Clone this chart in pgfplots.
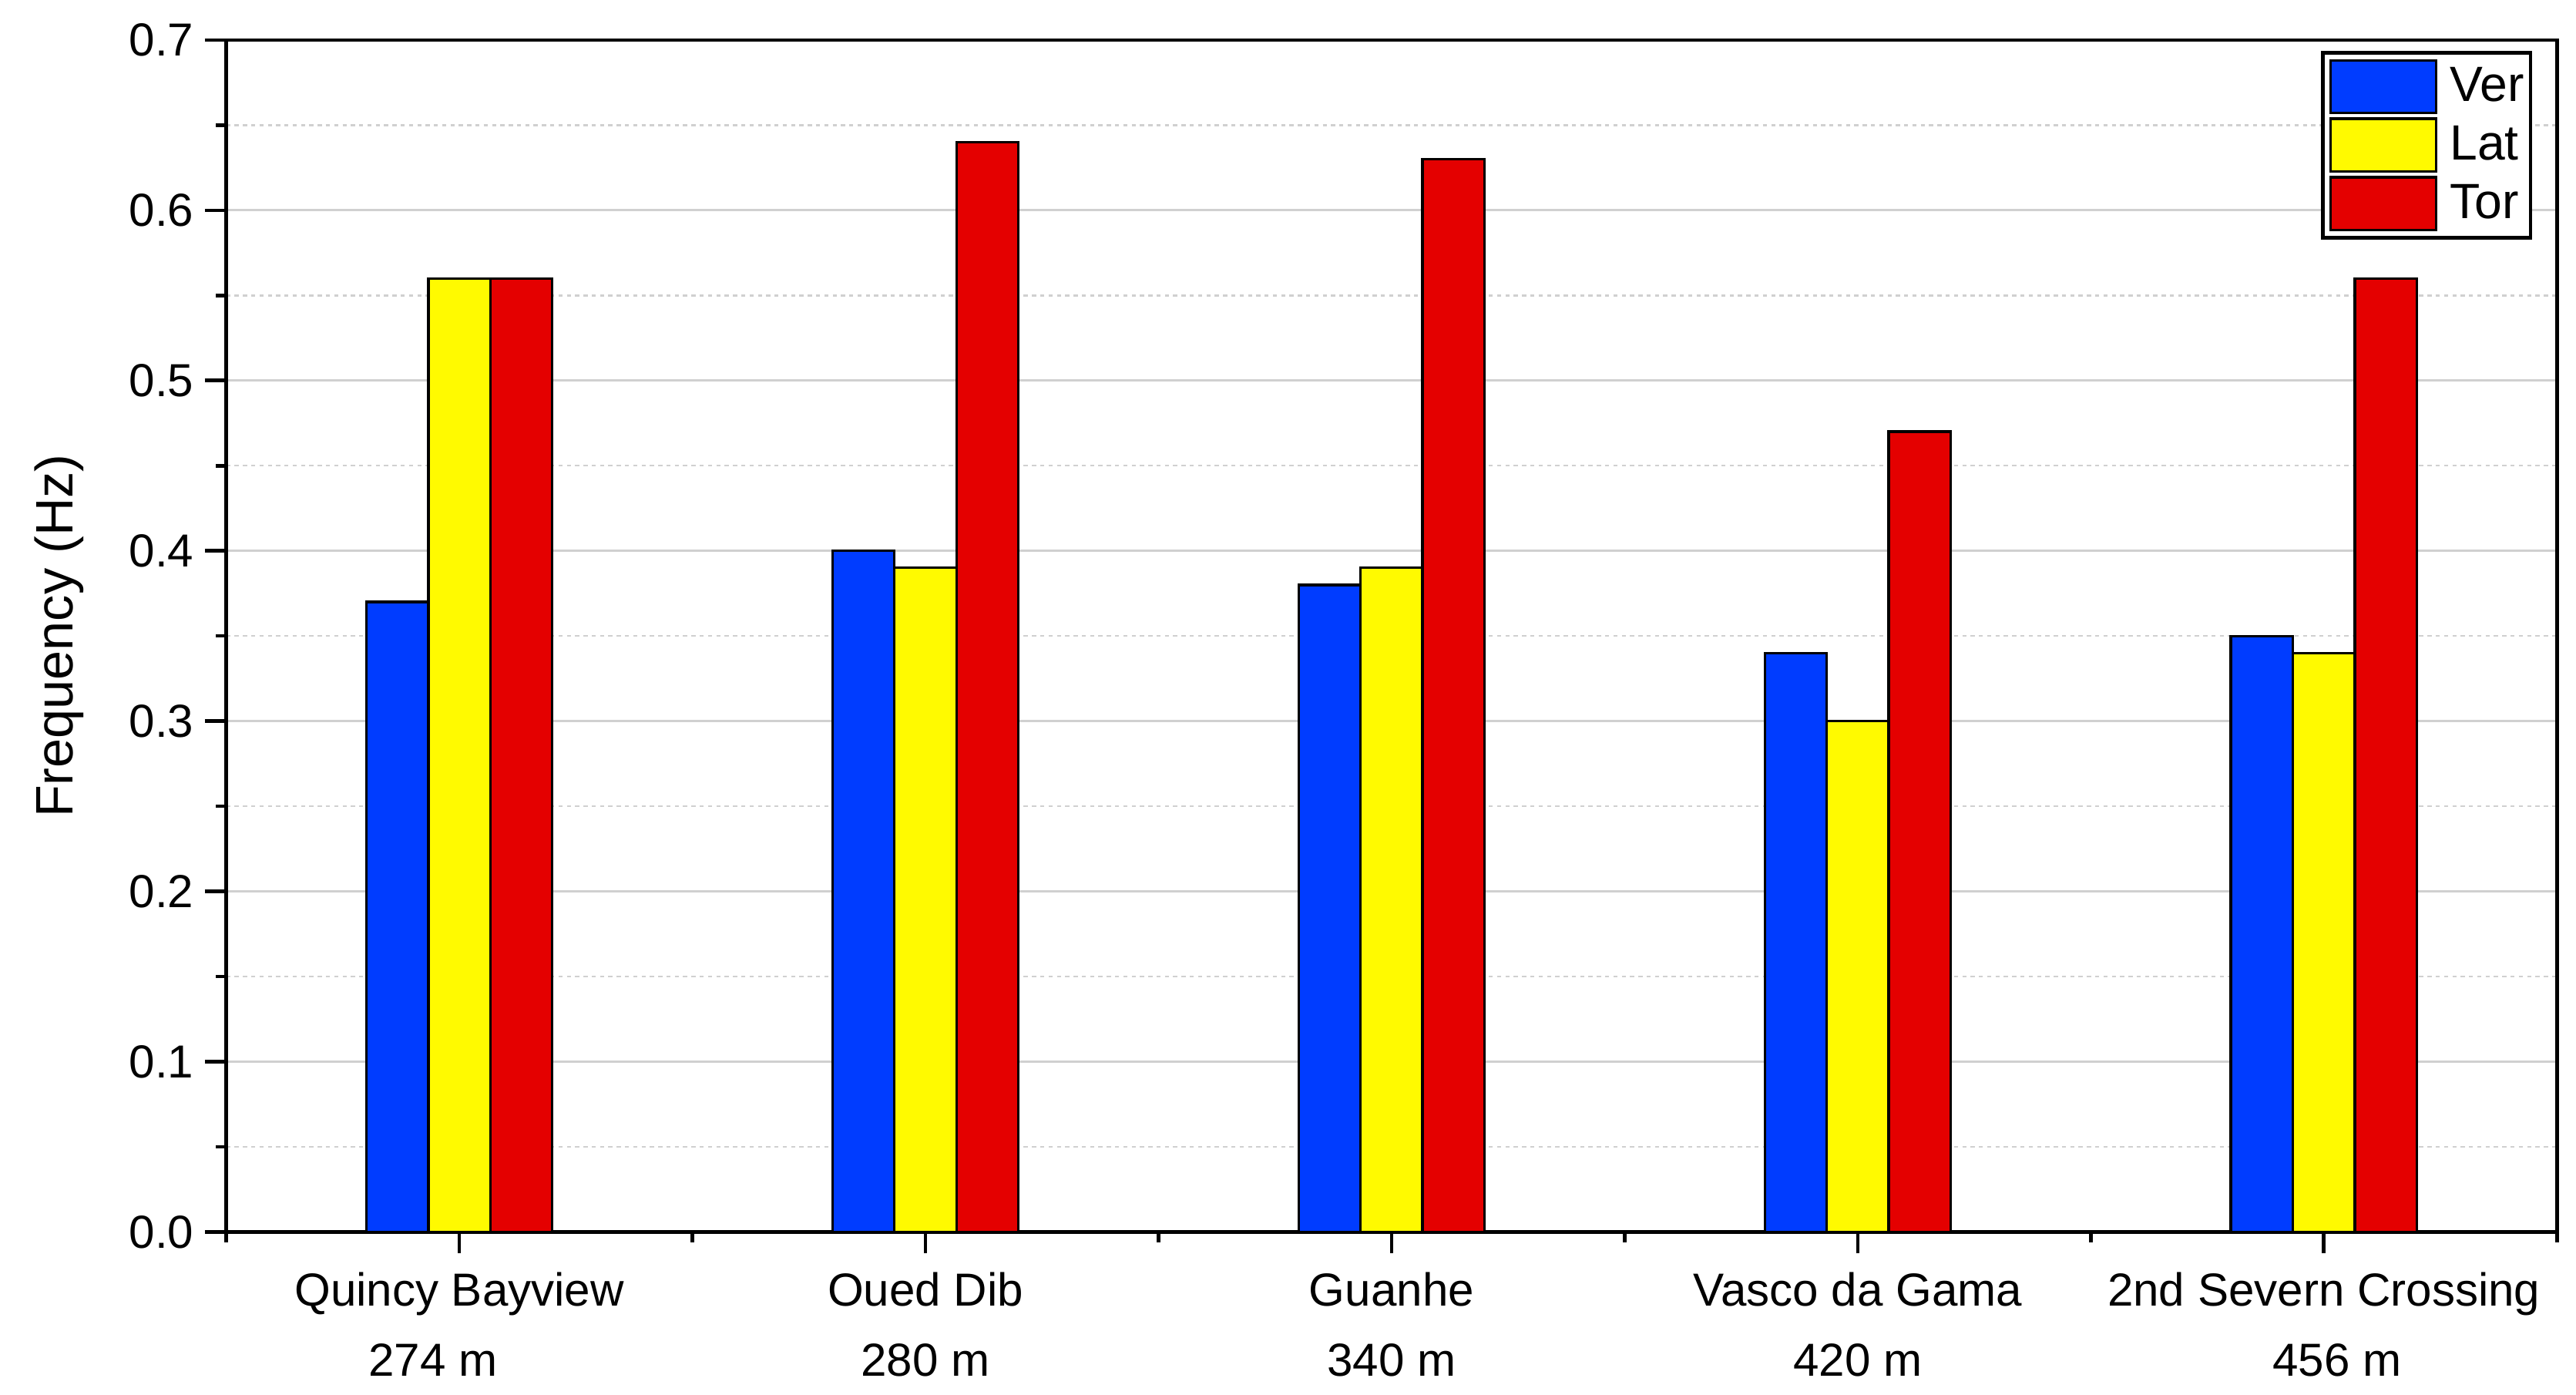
\documentclass[border=0pt]{standalone}
\usepackage{fontspec}
\setmainfont{Liberation Sans}
\usepackage{pgfplots}
\pgfplotsset{compat=1.18}

\definecolor{verblue}{RGB}{0,60,255}
\definecolor{latyellow}{RGB}{255,250,0}
\definecolor{torred}{RGB}{228,0,0}
\definecolor{gridgray}{RGB}{208,208,208}

\newcommand{\lblfont}{\fontsize{14.5}{17.4}\selectfont}

% big rectangle as legend image
\pgfplotsset{
    legrect/.style={legend image code/.code={%
        \draw[##1,draw=black,line width=0.8pt] (0cm,-0.29cm) rectangle (1.16cm,0.29cm);}},
}

\begin{document}
\begin{tikzpicture}
% page size fixed to the reference proportions
\path[use as bounding box] (-2.489cm,-1.786cm) rectangle (25.85cm,13.55cm);
\begin{axis}[
    at={(0,0)}, anchor=south west,
    scale only axis,
    width=25.64cm, height=13.11cm,
    ybar=0pt, bar width=0.133,
    xmin=-0.5, xmax=4.5,
    ymin=0, ymax=0.7,
    xtick={0,1,2,3,4},
    minor xtick={-0.5,0.5,1.5,2.5,3.5,4.5},
    xticklabels={{Quincy Bayview\\[4.5pt]\hspace*{-0.58cm}274 m},{Oued Dib\\[4.5pt]280 m},{Guanhe\\[4.5pt]340 m},{Vasco da Gama\\[4.5pt]420 m},{2nd Severn Crossing\\[4.5pt]456 m\hspace*{-0.29cm}}},
    xticklabel style={align=center, font=\lblfont, yshift=-0.09cm},
    ytick={0,0.1,0.2,0.3,0.4,0.5,0.6,0.7},
    minor ytick={0.05,0.15,0.25,0.35,0.45,0.55,0.65},
    yticklabel style={font=\lblfont, /pgf/number format/fixed, /pgf/number format/fixed zerofill, /pgf/number format/precision=1},
    /pgf/number format/assume math mode=true,
    ymajorgrids=true, yminorgrids=true,
    major grid style={draw=gridgray, line width=0.7pt},
    minor grid style={draw=gridgray, line width=0.6pt, dash pattern=on 1.3pt off 1.3pt},
    tick align=outside,
    xtick pos=bottom, ytick pos=left,
    major tick length=0.235cm, minor tick length=0.115cm,
    tick style={black, line width=1.1pt},
    axis line style={line width=1.1pt},
    ylabel={Frequency (Hz)},
    every axis y label/.style={at={(axis description cs:0,0.5)}, xshift=-1.84cm, anchor=center, rotate=90, font=\fontsize{16.5}{19.8}\selectfont},
    legend cell align=left,
    legend style={at={(1,1)}, anchor=north east, xshift=-0.27cm, yshift=-0.12cm,
        draw=black, line width=1.1pt, inner sep=0.07cm,
        /tikz/row sep=0.035cm, /tikz/column sep=0.14cm,
        nodes={inner sep=0pt, anchor=west, font=\fontsize{15.5}{18.6}\selectfont}},
]
\addplot[fill=verblue, draw=black, line width=0.8pt, legrect]
    coordinates {(0,0.37) (1,0.40) (2,0.38) (3,0.34) (4,0.35)};
\addlegendentry{Ver}
\addplot[fill=latyellow, draw=black, line width=0.8pt, legrect]
    coordinates {(0,0.56) (1,0.39) (2,0.39) (3,0.30) (4,0.34)};
\addlegendentry{Lat}
\addplot[fill=torred, draw=black, line width=0.8pt, legrect]
    coordinates {(0,0.56) (1,0.64) (2,0.63) (3,0.47) (4,0.56)};
\addlegendentry{Tor}
\end{axis}
\end{tikzpicture}
\end{document}
